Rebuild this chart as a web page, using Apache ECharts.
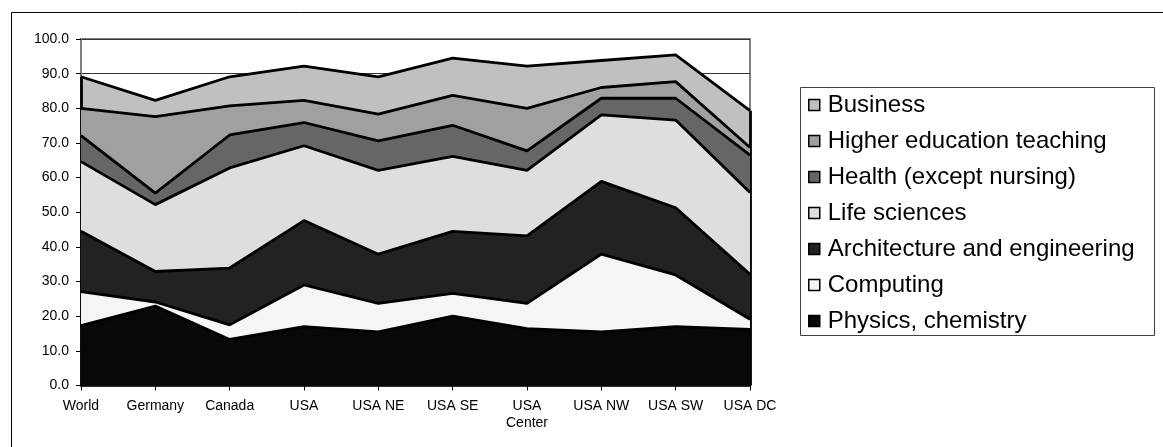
<!DOCTYPE html>
<html>
<head>
<meta charset="utf-8">
<script src="https://cdn.jsdelivr.net/npm/echarts@6/dist/echarts.min.js"></script>
<style>
html,body{margin:0;padding:0;background:#fff;}
#chart{width:1163px;height:447px;}
</style>
</head>
<body>
<div id="chart"></div>
<script>
const categories = ['World','Germany','Canada','USA','USA NE','USA SE','USA Center','USA NW','USA SW','USA DC'];
const physicsChemistry = [17.3, 22.9, 13.3, 17.0, 15.5, 20.0, 16.4, 15.5, 17.0, 16.2];
const computing        = [ 9.8,  1.2,  4.2, 12.0,  8.2,  6.6,  7.3, 22.4, 14.9,  2.9];
const architectureEng  = [17.4,  8.8, 16.4, 18.6, 14.2, 17.9, 19.5, 21.0, 19.4, 13.0];
const lifeSciences     = [20.1, 19.3, 28.9, 21.6, 24.2, 21.6, 18.9, 19.2, 25.3, 23.6];
const health           = [ 7.5,  3.3,  9.5,  6.7,  8.5,  9.0,  5.6,  4.8,  6.3, 10.8];
const higherEducation  = [ 7.9, 22.1,  8.4,  6.4,  7.7,  8.6, 12.3,  3.1,  4.8,  2.2];
const business         = [ 9.1,  4.7,  8.4,  9.9, 10.8, 10.8, 12.2,  7.8,  7.7, 10.6];
const yTicks = [0,10,20,30,40,50,60,70,80,90,100];

const seriesDefs = [
  {name:'Physics, chemistry', data: physicsChemistry, color:'#080808'},
  {name:'Computing', data: computing, color:'#f5f5f5'},
  {name:'Architecture and engineering', data: architectureEng, color:'#222222'},
  {name:'Life sciences', data: lifeSciences, color:'#dedede'},
  {name:'Health (except nursing)', data: health, color:'#666666'},
  {name:'Higher education teaching', data: higherEducation, color:'#a0a0a0'},
  {name:'Business', data: business, color:'#c0c0c0'}
];

const totals = categories.map((c,i)=>seriesDefs.reduce((s,d)=>s+d.data[i],0));
const lastIdx = categories.length-1;
const FONT = "'Liberation Sans', Arial, sans-serif";

const series = seriesDefs.map((d,idx)=>{
  const s = {
    name: d.name,
    type: 'line',
    stack: 'total',
    data: d.data,
    symbol: 'none',
    z: 10 - idx,
    color: d.color,
    lineStyle: {color:'#000', width: 2.8},
    areaStyle: {color: d.color, opacity: 1},
    itemStyle: {color: d.color, borderColor:'#000', borderWidth:1.5},
    emphasis: {disabled: true},
    animation: false
  };
  if (idx === seriesDefs.length-1) {
    s.markLine = {
      silent: true,
      symbol: ['none','none'],
      label: {show:false},
      lineStyle: {color:'#000', width:2.8, type:'solid'},
      data: [
        [{coord:[categories[0],0]},{coord:[categories[0],totals[0]]}],
        [{coord:[categories[lastIdx],0]},{coord:[categories[lastIdx],totals[lastIdx]]}]
      ]
    };
  }
  return s;
});

const chart = echarts.init(document.getElementById('chart'), null, {renderer:'canvas'});
chart.setOption({
  animation: false,
  backgroundColor: '#fff',
  textStyle: {fontFamily: FONT, color:'#000'},
  graphic: [
    {type:'line', shape:{x1:11.5, y1:12.5, x2:11.5, y2:447}, style:{stroke:'#000', lineWidth:1}, silent:true, z:-1},
    {type:'line', shape:{x1:11.5, y1:12.5, x2:1163, y2:12.5}, style:{stroke:'#000', lineWidth:1}, silent:true, z:-1},
    {type:'rect', shape:{x:800.5, y:87.5, width:354, height:248}, style:{fill:'#fff', stroke:'#404040', lineWidth:1}, silent:true, z:-1}
  ],
  grid: {left:81, right:413, top:39, bottom:61.5, show:true, borderColor:'#808080', borderWidth:2, backgroundColor:'#fff'},
  legend: {
    orient: 'vertical',
    left: 808,
    top: 92,
    padding: 0,
    itemGap: 10,
    icon: 'rect',
    itemWidth: 11,
    itemHeight: 11,
    itemStyle: {borderColor:'#000', borderWidth:1.5},
    textStyle: {fontSize: 24, fontFamily: FONT, color:'#000', lineHeight: 26, padding:[0,0,0,3]},
    data: seriesDefs.map(d=>d.name).reverse(),
    selectedMode: false
  },
  xAxis: {
    type: 'category',
    data: categories,
    boundaryGap: false,
    axisLine: {lineStyle:{color:'#000', width:1.5}},
    axisTick: {show:true, length:5, lineStyle:{color:'#000'}, alignWithLabel:true},
    axisLabel: {
      fontSize: 14, color:'#000', fontFamily: FONT, margin: 12, lineHeight: 17, interval: 0,
      formatter: v => v === 'USA Center' ? 'USA\nCenter' : v
    },
    splitLine: {show:false}
  },
  yAxis: {
    type: 'value',
    min: yTicks[0],
    max: yTicks[yTicks.length-1],
    interval: 10,
    axisLine: {show:true, lineStyle:{color:'#808080', width:2}},
    axisTick: {show:true, length:5, lineStyle:{color:'#000'}},
    axisLabel: {fontSize:14, color:'#000', fontFamily: FONT, margin: 12, formatter: v => v.toFixed(1)},
    splitLine: {show:true, lineStyle:{color:'#333', width:1}}
  },
  series: series
});
</script>
</body>
</html>
